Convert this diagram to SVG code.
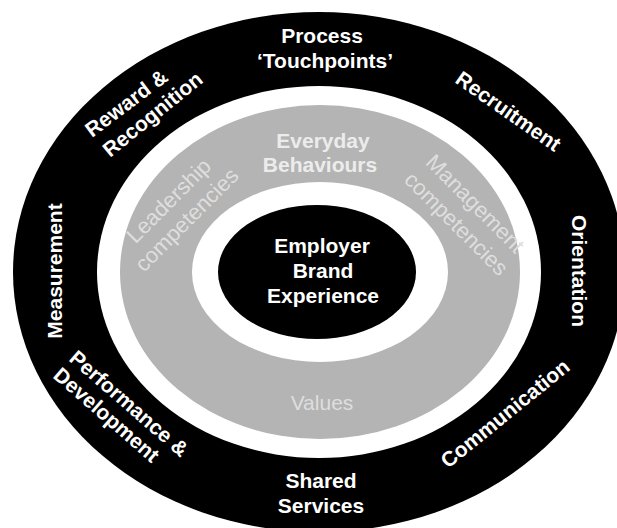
<svg xmlns="http://www.w3.org/2000/svg" width="617" height="528" viewBox="0 0 617 528">
  <style>
    .lbl { font-family: "Liberation Sans", Arial, Helvetica, sans-serif; font-size: 21px; font-weight: bold; fill: #ffffff; }
    .mid { text-anchor: middle; }
    .soft { font-family: "Liberation Sans", Arial, Helvetica, sans-serif; font-size: 22px; fill: #dedede; text-anchor: middle; }
    .softb { font-family: "Liberation Sans", Arial, Helvetica, sans-serif; font-size: 21px; font-weight: bold; fill: #ececec; text-anchor: middle; }
  </style>
  <rect width="617" height="528" fill="#ffffff"/>

  <!-- concentric rings -->
  <g id="outer-ring">
    <ellipse cx="319" cy="272" rx="306" ry="260" fill="#000000"/>
    <ellipse cx="319" cy="272" rx="222" ry="186" fill="#ffffff"/>
  </g>
  <g id="values-ring">
    <ellipse cx="320" cy="272" rx="200" ry="167" fill="#b4b4b4"/>
    <ellipse cx="320" cy="272" rx="128" ry="90" fill="#ffffff"/>
  </g>
  <g id="core">
    <ellipse cx="317" cy="272" rx="99" ry="67" fill="#000000"/>
    <text class="lbl mid" x="322" y="253">Employer</text>
    <text class="lbl mid" x="323" y="278">Brand</text>
    <text class="lbl mid" x="323" y="303">Experience</text>
  </g>

  <!-- labels on the grey ring -->
  <g id="everyday-behaviours">
    <text class="softb" x="323" y="148">Everyday</text>
    <text class="softb" x="320" y="172">Behaviours</text>
  </g>
  <g id="leadership-competencies">
    <text class="soft" transform="translate(174,206) rotate(-45)">Leadership</text>
    <text class="soft" transform="translate(192,225) rotate(-45)">competencies</text>
  </g>
  <g id="management-competencies">
    <text class="soft" transform="translate(470,209) rotate(45)">Management</text>
    <text class="soft" transform="translate(451,229) rotate(45)">competencies</text>
  </g>
  <g id="values">
    <text class="soft" x="322" y="410" style="font-size:21px">Values</text>
  </g>

  <!-- labels on the black ring -->
  <g id="process-touchpoints">
    <text class="lbl mid" x="322" y="43">Process</text>
    <text class="lbl mid" x="325" y="68">‘Touchpoints’</text>
  </g>
  <g id="recruitment">
    <text class="lbl" transform="translate(454,82) rotate(35)">Recruitment</text>
  </g>
  <g id="orientation">
    <text class="lbl mid" transform="translate(572,271) rotate(90)">Orientation</text>
  </g>
  <g id="communication">
    <text class="lbl" transform="translate(448,469) rotate(-39)">Communication</text>
  </g>
  <g id="shared-services">
    <text class="lbl mid" x="321" y="488">Shared</text>
    <text class="lbl mid" x="321" y="513">Services</text>
  </g>
  <g id="performance-development">
    <text class="lbl" transform="translate(68,360) rotate(41)">Performance &amp;</text>
    <text class="lbl" transform="translate(52,377) rotate(41)">Development</text>
  </g>
  <g id="measurement">
    <text class="lbl mid" transform="translate(62,271) rotate(-90)">Measurement</text>
  </g>
  <g id="reward-recognition">
    <text class="lbl" transform="translate(92,138) rotate(-37)">Reward &amp;</text>
    <text class="lbl" transform="translate(110,158) rotate(-39)">Recognition</text>
  </g>
</svg>
